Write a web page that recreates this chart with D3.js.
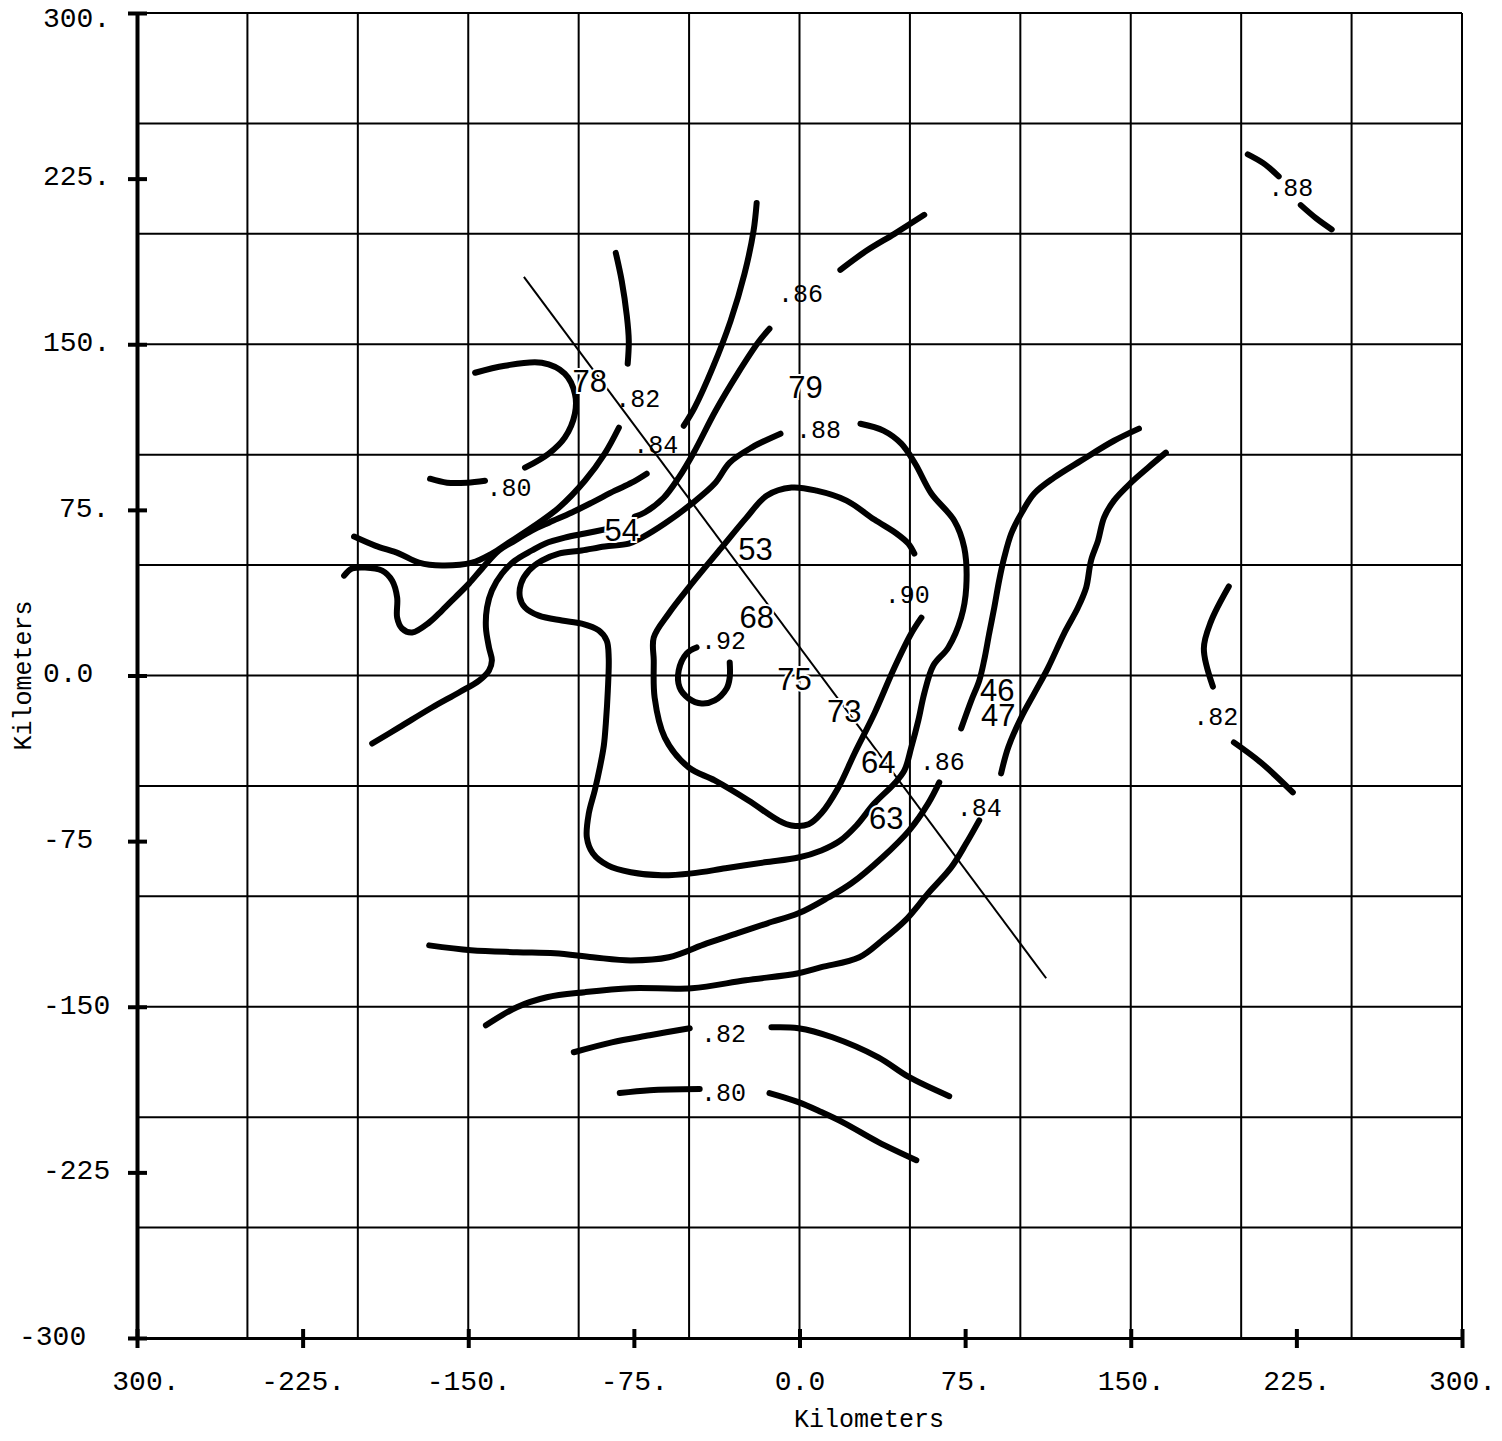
<!DOCTYPE html>
<html>
<head>
<meta charset="utf-8">
<script src="https://cdn.jsdelivr.net/npm/d3@7"></script>
<style>
  body { margin: 0; background: white; }
</style>
</head>
<body>
<div id="contour_map"></div>
<script>

// axis ticks and labels (km)
const xTickValues = [-300, -225, -150, -75, 0, 75, 150, 225, 300];
const xTickLabels = [" 300.", "-225.", "-150.", "-75.", "0.0", "75.", "150.", "225.", "300."];
const yTickValues = [300, 225, 150, 75, 0, -75, -150, -225, -300];
const yTickLabels = ["300.", "225.", "150.", "75.", "0.0", "-75", "-150", "-225", "-300"];
const gridValues = [-300, -250, -200, -150, -100, -50, 0, 50, 100, 150, 200, 250, 300];

// contour lines, each point is [km east, km north]
const iso88EastA = [[203, 236], [210, 232], [217, 226]];
const iso88EastB = [[227, 213], [234, 207], [241, 202]];
const iso86North = [[18.5, 183.7], [30.3, 192.3], [43, 200], [56.5, 208.6]];
const iso82North = [[-83.2, 191.4], [-80.5, 178.7], [-78.2, 162.9], [-77.3, 151.6], [-77.8, 141.2]];
const iso84North = [[-19.4, 214], [-20.8, 201.4], [-24.9, 181.9], [-31.2, 160.6], [-39.3, 139.4], [-47.5, 121.3], [-52.4, 113.1]];
const iso86West = [[-13.6, 157], [-18.5, 151.1], [-28, 136.7], [-38, 119.9], [-47.9, 100.9], [-54.7, 89.6], [-61.5, 80.5], [-70.1, 73.8], [-74.6, 71.9]];
const iso78Arc = [[-146.9, 137.1], [-133.4, 140.3], [-116.7, 141.6], [-106.3, 136.7], [-101.7, 127.6], [-101.7, 118.6], [-106.3, 107.7], [-113.5, 100.5], [-124.3, 94.1]];
const iso80West = [[-167.3, 89.1], [-159.6, 87.3], [-150.6, 87.3], [-142.4, 88.2]];
const iso82West = [[-81.8, 112.2], [-88.2, 100.5], [-97.2, 88.2], [-109, 76], [-121.2, 67], [-131.6, 60.2], [-139.3, 55.2], [-148.3, 51.1], [-161.9, 49.8], [-172.3, 51.1], [-181.3, 55.2], [-192.2, 58.8], [-201.7, 62.9]];
const iso84West = [[-69.2, 91.4], [-76, 87.3], [-83.6, 83.7], [-94, 78.3], [-103.1, 73.8], [-113.5, 69.2], [-121.2, 65.6], [-128.9, 61.1], [-136.1, 56.6], [-143.8, 48.4], [-149.7, 41.6], [-156, 35.3], [-161.9, 29.4], [-167.7, 24], [-175.4, 19.5], [-180, 21.3], [-182.2, 26.2], [-182.2, 35.3], [-184.5, 43], [-189, 47.5], [-196.7, 48.9], [-202.6, 48.4], [-206.2, 45.2]];
const iso86SouthWest = [[-86.4, 66.5], [-97.2, 64.3], [-106.3, 62.4], [-115.3, 59.7], [-121.2, 56.6], [-128.9, 52], [-134.7, 46.2], [-139.3, 38.5], [-141.5, 30.8], [-142, 21.7], [-140.6, 12.7], [-139.3, 6.8], [-140.6, 2.3], [-145.1, -2.3], [-154.2, -7.7], [-166.4, -14.5], [-181.3, -23.5], [-193.5, -30.8]];
const iso88Loop = [[-8.6, 109.5], [-21.7, 103.2], [-31.6, 96.4], [-38.4, 86.9], [-48.8, 77.8], [-61, 68.8], [-71.4, 62.4], [-77.3, 59.7], [-88.2, 58.4], [-98.6, 56.6], [-109, 55.2], [-116.7, 52], [-122.5, 47.5], [-126.1, 41.6], [-126.6, 35.3], [-124.3, 30.8], [-118, 27.1], [-107.6, 24.9], [-98.6, 23.5], [-90.9, 20.4], [-87.3, 15.8], [-86.4, 8.1], [-86.8, -6.8], [-87.7, -21.7], [-88.6, -31.7], [-90.4, -41.6], [-92.7, -52], [-95.4, -62.4], [-96.3, -73.3], [-93.6, -80.5], [-86.8, -86], [-76.4, -89.1], [-62.4, -90.5], [-48.8, -89.6], [-33.5, -87.3], [-15.8, -84.6], [-0.5, -82.4], [9.9, -79.2], [18.5, -74.7], [25.8, -67.9], [33.9, -57.9], [43, -48.9], [47.5, -43], [50.6, -32.6], [53.8, -20.4], [56.5, -8.1], [60.6, 4.5], [67.4, 12.7], [73.2, 26.2], [75.5, 39.8], [74.6, 57.9], [70.1, 70.1], [59.7, 82.4], [52.4, 95.9], [46.1, 105], [38, 110.9], [27.6, 114]];
const iso90Loop = [[52, 55.2], [49.3, 59.7], [43.9, 64.3], [33.9, 70.6], [21.3, 79.2], [7.7, 83.7], [-3.6, 85.1], [-14.9, 81.4], [-24, 71.5], [-35.3, 57.9], [-50.2, 39.8], [-59.2, 28.1], [-66, 17.2], [-66, 6.8], [-65.6, -10], [-61, -28.1], [-50.2, -41.6], [-38.4, -47.5], [-23.1, -56.6], [-9.5, -65.6], [-3.6, -67.9], [4.1, -67.4], [9.9, -62.4], [17.6, -50.7], [24.9, -35.3], [33.9, -17.2], [43, 3.6], [50.6, 19], [55.2, 26.2]];
const iso92Loop = [[-46.6, 12.7], [-51.1, 10], [-54.7, 2.3], [-54.3, -5.4], [-50.2, -10.4], [-44.3, -12.7], [-38.4, -11.3], [-33, -5.9], [-31.6, -0.9], [-31.6, 5.9]];
const iso86East = [[153.7, 111.8], [142.4, 106.3], [127.5, 97.3], [115.3, 89.6], [106.3, 82.4], [100.4, 73.3], [95.9, 64.3], [92.7, 53.4], [90.4, 43], [88.2, 30.8], [85.9, 19], [83.6, 6.8], [81.4, -2.3], [77.8, -11.3], [73.2, -24]];
const iso84East = [[165.9, 100.9], [157.8, 94.1], [150.1, 87.3], [142.4, 79.2], [137.9, 71.5], [135.2, 61.1], [132, 52], [129.8, 39.8], [126.1, 30.8], [119.8, 19], [112.6, 3.6], [106.3, -8.1], [100.4, -19], [94.5, -32.6], [91.3, -44.3]];
const iso86South = [[63.3, -48.4], [58.3, -57.9], [49.7, -70.1], [37.5, -82.4], [23.5, -94.1], [13.1, -100.5], [-0.5, -107.7], [-14.5, -112.2], [-28, -116.7], [-42, -121.3], [-59.2, -127.6], [-76.4, -129], [-93.6, -127.6], [-110.8, -125.8], [-128, -125.3], [-148.8, -124.4], [-167.7, -122.2]];
const iso84South = [[81.4, -65.6], [75.5, -76], [68.7, -86.9], [58.3, -98.6], [47.9, -110.9], [37.5, -119.9], [27.1, -127.6], [9.9, -132.1], [-0.5, -134.8], [-24.4, -138], [-48.8, -141.6], [-76.4, -141.6], [-97.2, -143.4], [-114.4, -145.7], [-128, -150.2], [-142, -158.4]];
const iso82SouthA = [[-102.2, -170.6], [-85, -166.1], [-67.8, -162.9], [-49.7, -159.7]];
const iso82SouthB = [[-12.7, -159.3], [-0.5, -159.7], [14.9, -163.8], [35.7, -172.9], [49.7, -181.9], [67.8, -190.5]];
const iso80SouthA = [[-81.4, -189.1], [-67.8, -187.8], [-45.2, -187.3]];
const iso80SouthB = [[-13.6, -189.1], [-0.5, -193.2], [9.9, -197.7], [20.3, -202.7], [35.7, -211.3], [52.9, -219.5]];
const iso82EastA = [[194.4, 40.3], [186.3, 24.4], [183.1, 12.2], [187.2, -5]];
const iso82EastB = [[196.7, -30.3], [208.9, -39.4], [223.4, -52.9]];

const contours = [iso88EastA, iso88EastB, iso86North, iso82North, iso84North, iso86West,
	iso78Arc, iso80West, iso82West, iso84West, iso86SouthWest, iso88Loop, iso90Loop, iso92Loop,
	iso86East, iso84East, iso86South, iso84South, iso82SouthA, iso82SouthB, iso80SouthA,
	iso80SouthB, iso82EastA, iso82EastB];

// cross-section line
const crossSection = [[-124.8, 180.5], [111.7, -137.1]];

// station values
const stationText = ["78", "79", "54", "53", "68", "75", "73", "64", "63", "46", "47"];
const stationX = [-95.0, 2.7, -80.5, -19.9, -19.4, -2.3, 20.3, 35.7, 39.3, 89.5, 90.0];
const stationY = [133.5, 130.8, 66.1, 57.5, 26.7, -1.4, -15.8, -38.9, -64.3, -6.3, -17.6];

// contour labels
const isoText = [".88", ".86", ".82", ".84", ".80", ".88", ".90", ".92", ".86", ".84", ".82", ".80", ".82"];
const isoX = [222.5, 0.5, -73.2, -65.1, -131.6, 8.6, 48.8, -34.4, 64.7, 81.4, -34.4, -34.4, 188.5];
const isoY = [220.8, 172.9, 125.3, 104.5, 85.1, 111.3, 36.7, 15.8, -38.9, -59.7, -162.0, -189.1, -18.6];


// layout
const w = 1502;
const h = 1441;
const plot = {left: 137, right: 1462, top: 13, bottom: 1338};
const monoFont = "'Liberation Mono', 'Courier New', monospace";
const sansFont = "'Liberation Sans', Arial, sans-serif";
const yLabelNudge = [0, 0, 0, 16, 0, 0, 0, 0, -24]; // typewriter offsets of the y labels

// scales
const x = d3.scaleLinear().domain([-300, 300]).range([plot.left, plot.right]);
const y = d3.scaleLinear().domain([-300, 300]).range([plot.bottom, plot.top]);

const svg = d3.select("#contour_map")
	.append("svg")
	.attr("width", w)
	.attr("height", h)
	.style("background", "white");

// grid every 50 km
svg.append("g")
	.selectAll("line")
	.data(gridValues)
	.join("line")
		.attr("x1", d => x(d))
		.attr("x2", d => x(d))
		.attr("y1", y(300))
		.attr("y2", y(-300))
		.attr("stroke", "black")
		.attr("stroke-width", 2);

svg.append("g")
	.selectAll("line")
	.data(gridValues)
	.join("line")
		.attr("x1", x(-300))
		.attr("x2", x(300))
		.attr("y1", d => y(d))
		.attr("y2", d => y(d))
		.attr("stroke", "black")
		.attr("stroke-width", 2);

// left axis
const axisY = svg.append("g")
	.attr("transform", `translate(${x(-300)},0)`)
	.call(d3.axisLeft(y).tickValues(yTickValues).tickFormat((d, i) => yTickLabels[i]).tickSize(9).tickSizeOuter(0))
	.attr("font-family", monoFont)
	.attr("font-size", 28);

axisY.select(".domain").attr("stroke-width", 4);
axisY.selectAll(".tick line").attr("x1", 10).attr("x2", -9).attr("stroke-width", 4);
axisY.selectAll(".tick text")
	.attr("text-anchor", "start")
	.attr("fill", "black")
	.attr("x", (d, i) => 43 + yLabelNudge[i] - x(-300))
	.attr("y", d => Math.max(y(d) - 3, 17) - y(d))
	.attr("dy", "0.33em");

// bottom axis
const axisX = svg.append("g")
	.attr("transform", `translate(0,${y(-300)})`)
	.call(d3.axisBottom(x).tickValues(xTickValues).tickFormat((d, i) => xTickLabels[i]).tickSize(9).tickSizeOuter(0))
	.attr("font-family", monoFont)
	.attr("font-size", 28);

axisX.select(".domain").attr("stroke-width", 3);
axisX.selectAll(".tick line").attr("y1", -9).attr("y2", 10).attr("stroke-width", 4);
axisX.selectAll(".tick text")
	.attr("fill", "black")
	.attr("y", 43)
	.attr("dy", "0.33em")
	.style("white-space", "pre");

// axis titles
svg.append("text")
	.attr("x", 869)
	.attr("y", 1418)
	.attr("dy", "0.35em")
	.attr("text-anchor", "middle")
	.attr("font-family", monoFont)
	.attr("font-size", 25)
	.text("Kilometers");

svg.append("text")
	.attr("transform", `translate(22,${y(0)}) rotate(-90)`)
	.attr("dy", "0.35em")
	.attr("text-anchor", "middle")
	.attr("font-family", monoFont)
	.attr("font-size", 25)
	.text("Kilometers");

// cross-section line
svg.append("line")
	.attr("x1", x(crossSection[0][0]))
	.attr("y1", y(crossSection[0][1]))
	.attr("x2", x(crossSection[1][0]))
	.attr("y2", y(crossSection[1][1]))
	.attr("stroke", "black")
	.attr("stroke-width", 2);

// contour lines
const contourLine = d3.line()
	.x(d => x(d[0]))
	.y(d => y(d[1]))
	.curve(d3.curveCatmullRom.alpha(0.5));

svg.append("g")
	.selectAll("path")
	.data(contours)
	.join("path")
		.attr("d", contourLine)
		.attr("fill", "none")
		.attr("stroke", "black")
		.attr("stroke-width", 6)
		.attr("stroke-linecap", "round")
		.attr("stroke-linejoin", "round");

// station values, with a white halo that breaks the lines underneath
svg.append("g")
	.selectAll("text")
	.data(stationText)
	.join("text")
		.attr("x", (d, i) => x(stationX[i]))
		.attr("y", (d, i) => y(stationY[i]))
		.attr("dy", "0.36em")
		.attr("text-anchor", "middle")
		.attr("font-family", sansFont)
		.attr("font-size", 31)
		.attr("fill", "black")
		.attr("stroke", "white")
		.attr("stroke-width", 4)
		.attr("paint-order", "stroke")
		.text(d => d);

// contour labels
svg.append("g")
	.selectAll("text")
	.data(isoText)
	.join("text")
		.attr("x", (d, i) => x(isoX[i]))
		.attr("y", (d, i) => y(isoY[i]))
		.attr("dy", "0.33em")
		.attr("text-anchor", "middle")
		.attr("font-family", monoFont)
		.attr("font-size", 25)
		.attr("fill", "black")
		.text(d => d);

</script>
</body>
</html>
